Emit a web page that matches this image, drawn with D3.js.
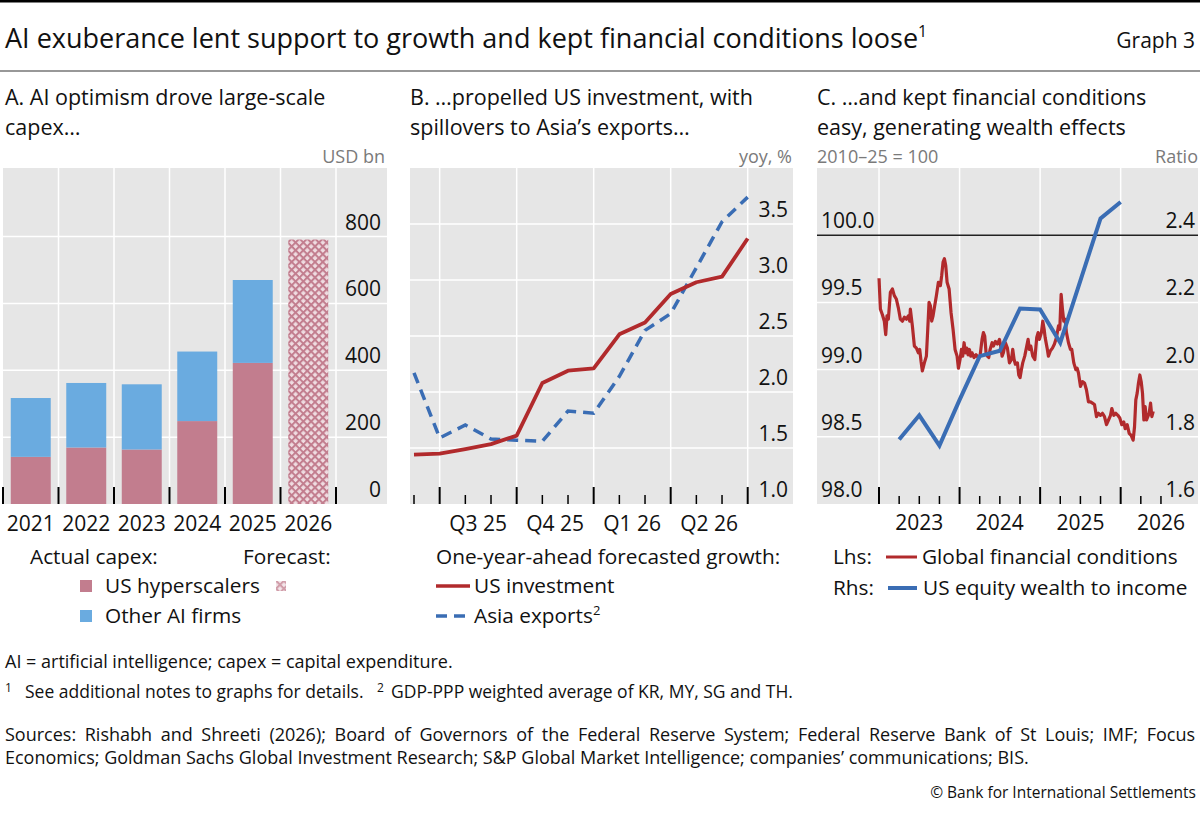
<!DOCTYPE html>
<html><head><meta charset="utf-8">
<script src="https://cdn.jsdelivr.net/npm/d3@7"></script>
<style>
body{margin:0;background:#fff}
svg{display:block}
text{font-family:"Open Sans","Noto Sans",sans-serif;fill:#111}
</style>
</head><body>
<svg id="c" width="1200" height="816"></svg>
<script>
// ---------- Panel A data ----------
const capexYears = ["2021","2022","2023","2024","2025","2026"];
const usHyperscalers = [141, 169, 163, 248, 422, null];
const otherAIFirms = [176, 193, 195, 208, 248, null];
const forecastHyperscalers = [null, null, null, null, null, 791];
const capexTicks = [0, 200, 400, 600, 800];

// ---------- Panel B data ----------
const surveyMonths = ["Jun 25","Jul 25","Aug 25","Sep 25","Oct 25","Nov 25","Dec 25","Jan 26","Feb 26","Mar 26","Apr 26","May 26","Jun 26","Jul 26"];
const usInvestment = [1.44, 1.45, 1.49, 1.535, 1.61, 2.08, 2.19, 2.21, 2.515, 2.62, 2.875, 2.98, 3.03, 3.37];
const asiaExports = [2.17, 1.59, 1.705, 1.58, 1.57, 1.56, 1.83, 1.81, 2.14, 2.55, 2.70, 3.11, 3.52, 3.74];
const quarterLabels = ["Q3 25","Q4 25","Q1 26","Q2 26"];
const quarterStartIdx = [1, 4, 7, 10, 13];
const growthTicks = [1.0, 1.5, 2.0, 2.5, 3.0, 3.5];

// ---------- Panel C data ----------
const equityYears = [2023.25, 2023.5, 2023.75, 2024.0, 2024.25, 2024.5, 2024.75, 2025.0, 2025.25, 2025.5, 2025.75, 2026.0];
const equityWealthToIncome = [1.792, 1.864, 1.774, 1.91, 2.04, 2.056, 2.182, 2.179, 2.08, 2.265, 2.45, 2.499];
const gfcSeries = [
[2023.000,99.68],[2023.017,99.45],[2023.041,99.41],[2023.066,99.36],[2023.083,99.26],[2023.099,99.40],[2023.116,99.375],[2023.141,99.575],
[2023.166,99.60],[2023.190,99.55],[2023.215,99.525],[2023.240,99.46],[2023.265,99.375],[2023.290,99.36],[2023.315,99.39],[2023.340,99.375],
[2023.364,99.40],[2023.381,99.36],[2023.389,99.45],[2023.414,99.325],[2023.439,99.175],[2023.464,99.16],[2023.489,99.125],[2023.505,99.15],
[2023.522,99.06],[2023.538,98.99],[2023.563,99.05],[2023.588,99.10],[2023.605,99.30],[2023.621,99.50],[2023.638,99.475],[2023.654,99.36],
[2023.671,99.40],[2023.687,99.46],[2023.712,99.55],[2023.737,99.65],[2023.762,99.625],[2023.778,99.70],[2023.795,99.80],[2023.812,99.825],
[2023.828,99.775],[2023.845,99.65],[2023.870,99.60],[2023.894,99.425],[2023.919,99.30],[2023.944,99.15],[2023.969,99.10],[2023.986,99.01],
[2024.006,99.075],[2024.023,99.15],[2024.039,99.10],[2024.056,99.20],[2024.072,99.125],[2024.089,99.16],[2024.105,99.11],[2024.122,99.15],
[2024.139,99.10],[2024.155,99.125],[2024.180,99.09],[2024.205,99.11],[2024.230,99.09],[2024.254,99.10],[2024.279,99.225],[2024.296,99.275],
[2024.312,99.25],[2024.329,99.125],[2024.346,99.10],[2024.362,99.09],[2024.379,99.15],[2024.404,99.20],[2024.420,99.175],[2024.445,99.21],
[2024.470,99.19],[2024.495,99.225],[2024.511,99.175],[2024.528,99.10],[2024.544,99.125],[2024.569,99.20],[2024.594,99.16],[2024.619,99.05],
[2024.644,99.075],[2024.660,99.15],[2024.677,99.075],[2024.693,99.04],[2024.718,99.05],[2024.735,98.96],[2024.751,98.94],[2024.768,99.00],
[2024.784,99.05],[2024.809,99.10],[2024.834,99.175],[2024.851,99.225],[2024.867,99.15],[2024.884,99.175],[2024.909,99.10],[2024.934,99.075],
[2024.958,99.24],[2024.975,99.275],[2024.991,99.225],[2025.016,99.275],[2025.033,99.36],[2025.050,99.30],
[2025.062,99.24],[2025.087,99.16],[2025.103,99.10],[2025.128,99.14],[2025.153,99.16],[2025.178,99.19],[2025.203,99.24],[2025.228,99.325],
[2025.244,99.30],[2025.261,99.56],[2025.277,99.45],[2025.294,99.36],[2025.310,99.375],[2025.327,99.275],[2025.352,99.20],[2025.377,99.15],
[2025.393,99.15],[2025.418,99.05],[2025.443,99.00],[2025.460,99.01],[2025.476,98.975],[2025.501,98.875],[2025.526,98.91],[2025.551,98.90],
[2025.575,98.85],[2025.600,98.76],[2025.625,98.76],[2025.650,98.75],[2025.675,98.74],[2025.700,98.65],[2025.725,98.675],[2025.749,98.66],
[2025.774,98.675],[2025.799,98.65],[2025.824,98.59],[2025.849,98.625],[2025.874,98.66],[2025.890,98.71],[2025.915,98.66],[2025.940,98.675],
[2025.965,98.66],[2025.989,98.64],[2026.014,98.59],[2026.039,98.61],[2026.056,98.56],[2026.081,98.59],[2026.106,98.525],[2026.130,98.51],
[2026.155,98.475],[2026.172,98.575],[2026.188,98.775],[2026.205,98.825],[2026.221,98.90],[2026.238,98.96],[2026.255,98.91],[2026.271,98.825],
[2026.288,98.625],[2026.304,98.725],[2026.321,98.625],[2026.337,98.65],[2026.354,98.675],[2026.371,98.75],[2026.387,98.65],[2026.404,98.69]
];
const gfcTicks = [98.0, 98.5, 99.0, 99.5, 100.0];
const ratioTicks = [1.6, 1.8, 2.0, 2.2, 2.4];
const yearLabels = [2023, 2024, 2025, 2026];

// ---------- styles ----------
const BG = "#e6e6e6", GRID = "#ffffff";
const PINK = "#c27d8e", LBLUE = "#6aabe0";
const RED = "#b12a2c", BLUE = "#3a6db4";
const TICKFS = 21, LEGFS = 20.8, PTFS = 21.5;
const PLOT_TOP = 168, PLOT_BOT = 504;

const svg = d3.select("#c");
const defs = svg.append("defs");
const pat = defs.append("pattern").attr("id","xhatch").attr("patternUnits","userSpaceOnUse")
  .attr("width",5.5).attr("height",5.5).attr("patternTransform","rotate(45)");
pat.append("rect").attr("width",5.5).attr("height",5.5).attr("fill","#efdce1");
pat.append("rect").attr("width",5.5).attr("height",2).attr("fill",PINK);
pat.append("rect").attr("width",2).attr("height",5.5).attr("fill",PINK);

// ---------- header ----------
svg.append("rect").attr("x",0).attr("y",0).attr("width",1200).attr("height",2.5).attr("fill","#000");
const title = svg.append("text").attr("x",5).attr("y",48).attr("font-size",27);
title.append("tspan").text("AI exuberance lent support to growth and kept financial conditions loose");
title.append("tspan").attr("dy",-11).attr("font-size",16).text("1");
svg.append("text").attr("x",1195).attr("y",48).attr("text-anchor","end").attr("font-size",21).text("Graph 3");
svg.append("line").attr("x1",0).attr("x2",1200).attr("y1",71).attr("y2",71).attr("stroke","#333").attr("stroke-width",1.2);

function panelTitle(x, l1, l2){
  svg.append("text").attr("x",x).attr("y",104.5).attr("font-size",PTFS).text(l1);
  svg.append("text").attr("x",x).attr("y",134.5).attr("font-size",PTFS).text(l2);
}
panelTitle(5, "A. AI optimism drove large-scale", "capex…");
panelTitle(410, "B. …propelled US investment, with", "spillovers to Asia’s exports…");
panelTitle(817, "C. …and kept financial conditions", "easy, generating wealth effects");

function unit(x, anchor, t, fs){
  svg.append("text").attr("x",x).attr("y",163).attr("text-anchor",anchor).attr("font-size",fs||18).style("fill","#7a7a7a").text(t);
}

// ---------- Panel A ----------
{
  const L = 3, R = 387, barR = 336;
  const g = svg.append("g");
  const x = d3.scaleBand().domain(capexYears).range([L, barR]).paddingInner(0.28).paddingOuter(0.14);
  const y = d3.scaleLinear().domain([0, 1005]).range([PLOT_BOT, PLOT_TOP]);
  g.append("rect").attr("x",L).attr("y",PLOT_TOP).attr("width",R-L).attr("height",PLOT_BOT-PLOT_TOP).attr("fill",BG);
  const half = (x.step() - x.bandwidth())/2;
  const bounds = capexYears.map(d => x(d) - half).concat([x(capexYears[5]) + x.bandwidth() + half]);
  g.selectAll(".hg").data(capexTicks.filter(v=>v>0)).join("line")
    .attr("x1",L).attr("x2",R).attr("y1",d=>y(d)).attr("y2",d=>y(d)).attr("stroke",GRID).attr("stroke-width",1.5);
  g.selectAll(".vg").data(bounds.slice(1)).join("line")
    .attr("x1",d=>d).attr("x2",d=>d).attr("y1",PLOT_TOP).attr("y2",PLOT_BOT).attr("stroke",GRID).attr("stroke-width",1.5);
  const rows = capexYears.map((d,i)=>({year:d, hyp:usHyperscalers[i]||0, other:otherAIFirms[i]||0}));
  const stack = d3.stack().keys(["hyp","other"])(rows);
  const cols = {hyp:PINK, other:LBLUE};
  stack.forEach(s => {
    g.selectAll(null).data(s.filter(d=>d[1]>d[0])).join("rect")
      .attr("x",d=>x(d.data.year)).attr("width",x.bandwidth())
      .attr("y",d=>y(d[1])).attr("height",d=>y(d[0])-y(d[1])).attr("fill",cols[s.key]);
  });
  g.selectAll(null).data(capexYears.map((d,i)=>({year:d,v:forecastHyperscalers[i]})).filter(d=>d.v!=null)).join("rect")
    .attr("x",d=>x(d.year)).attr("width",x.bandwidth()).attr("y",d=>y(d.v)).attr("height",d=>y(0)-y(d.v)).attr("fill","url(#xhatch)");
  g.selectAll(null).data(bounds).join("line")
    .attr("x1",d=>d).attr("x2",d=>d).attr("y1",PLOT_BOT-17).attr("y2",PLOT_BOT).attr("stroke","#000").attr("stroke-width",2);
  g.selectAll(null).data(capexTicks).join("text")
    .attr("x",381).attr("y",d=>y(d)-7).attr("text-anchor","end").attr("font-size",TICKFS).text(d=>d);
  g.selectAll(null).data(capexYears).join("text")
    .attr("x",d=>x(d)+x.bandwidth()/2).attr("y",531).attr("text-anchor","middle").attr("font-size",TICKFS).text(d=>d);
  unit(385,"end","USD bn");
  // legend
  svg.append("text").attr("x",30).attr("y",564).attr("font-size",LEGFS).text("Actual capex:");
  svg.append("text").attr("x",243).attr("y",564).attr("font-size",LEGFS).text("Forecast:");
  svg.append("rect").attr("x",80).attr("y",580).attr("width",12).attr("height",12).attr("fill",PINK);
  svg.append("text").attr("x",105).attr("y",593).attr("font-size",LEGFS).text("US hyperscalers");
  svg.append("rect").attr("x",276).attr("y",581).attr("width",10).attr("height",10).attr("fill","url(#xhatch)").attr("opacity",0.75);
  svg.append("rect").attr("x",80).attr("y",610).attr("width",12).attr("height",12).attr("fill",LBLUE);
  svg.append("text").attr("x",105).attr("y",623).attr("font-size",LEGFS).text("Other AI firms");
}

// ---------- Panel B ----------
{
  const L = 410, R = 793;
  const g = svg.append("g");
  const x = d3.scaleLinear().domain([0, 13]).range([414, 747.7]);
  const y = d3.scaleLinear().domain([1, 4]).range([PLOT_BOT, PLOT_TOP]);
  g.append("rect").attr("x",L).attr("y",PLOT_TOP).attr("width",R-L).attr("height",PLOT_BOT-PLOT_TOP).attr("fill",BG);
  g.selectAll(null).data(growthTicks.slice(1)).join("line")
    .attr("x1",L).attr("x2",R).attr("y1",d=>y(d)).attr("y2",d=>y(d)).attr("stroke",GRID).attr("stroke-width",1.5);
  g.selectAll(null).data(quarterStartIdx).join("line")
    .attr("x1",d=>x(d)).attr("x2",d=>x(d)).attr("y1",PLOT_TOP).attr("y2",PLOT_BOT).attr("stroke",GRID).attr("stroke-width",1.5);
  const idx = surveyMonths.map((d,i)=>i);
  g.selectAll(null).data(idx).join("line")
    .attr("x1",d=>x(d)).attr("x2",d=>x(d))
    .attr("y1",d=>quarterStartIdx.includes(d)?PLOT_BOT-17:PLOT_BOT-9).attr("y2",PLOT_BOT)
    .attr("stroke","#000").attr("stroke-width",d=>quarterStartIdx.includes(d)?2:1.5);
  const line = d3.line().x((d,i)=>x(i)).y(d=>y(d));
  g.append("path").attr("d",line(asiaExports)).attr("fill","none").attr("stroke",BLUE).attr("stroke-width",3.5).attr("stroke-dasharray","11,7");
  g.append("path").attr("d",line(usInvestment)).attr("fill","none").attr("stroke",RED).attr("stroke-width",3.8).attr("stroke-linejoin","round");
  g.selectAll(null).data(growthTicks).join("text")
    .attr("x",788).attr("y",d=>y(d)-7).attr("text-anchor","end").attr("font-size",TICKFS).text(d=>d.toFixed(1));
  g.selectAll(null).data(quarterLabels).join("text")
    .attr("x",(d,i)=>x((quarterStartIdx[i]+quarterStartIdx[i+1])/2)).attr("y",531).attr("text-anchor","middle").attr("font-size",TICKFS).text(d=>d);
  unit(792,"end","yoy, %");
  svg.append("text").attr("x",436).attr("y",564).attr("font-size",LEGFS).text("One-year-ahead forecasted growth:");
  svg.append("line").attr("x1",436).attr("x2",470).attr("y1",586).attr("y2",586).attr("stroke",RED).attr("stroke-width",3.5);
  svg.append("text").attr("x",474).attr("y",593).attr("font-size",LEGFS).text("US investment");
  svg.append("line").attr("x1",436).attr("x2",468).attr("y1",616).attr("y2",616).attr("stroke",BLUE).attr("stroke-width",3.5).attr("stroke-dasharray","11,7");
  const ae = svg.append("text").attr("x",474).attr("y",623).attr("font-size",LEGFS);
  ae.append("tspan").text("Asia exports");
  ae.append("tspan").attr("dy",-8).attr("font-size",13).text("2");
}

// ---------- Panel C ----------
{
  const L = 817, R = 1198;
  const g = svg.append("g");
  const x = d3.scaleLinear().domain([2022.23, 2026.96]).range([L, R]);
  const yL = d3.scaleLinear().domain([98, 100.5]).range([PLOT_BOT, PLOT_TOP]);
  const yR = d3.scaleLinear().domain([1.6, 2.6]).range([PLOT_BOT, PLOT_TOP]);
  g.append("rect").attr("x",L).attr("y",PLOT_TOP).attr("width",R-L).attr("height",PLOT_BOT-PLOT_TOP).attr("fill",BG);
  g.selectAll(null).data(gfcTicks.filter(v=>v>98 && v<100)).join("line")
    .attr("x1",L).attr("x2",R).attr("y1",d=>yL(d)).attr("y2",d=>yL(d)).attr("stroke",GRID).attr("stroke-width",1.5);
  g.selectAll(null).data(yearLabels).join("line")
    .attr("x1",d=>x(d)).attr("x2",d=>x(d)).attr("y1",PLOT_TOP).attr("y2",PLOT_BOT).attr("stroke",GRID).attr("stroke-width",1.5);
  g.append("line").attr("x1",L).attr("x2",R).attr("y1",yL(100)).attr("y2",yL(100)).attr("stroke","#222").attr("stroke-width",1.5);
  const qt = d3.range(yearLabels[0]*4, yearLabels[yearLabels.length-1]*4 + 3).map(q=>q/4);
  g.selectAll(null).data(qt).join("line")
    .attr("x1",d=>x(d)).attr("x2",d=>x(d))
    .attr("y1",d=>Number.isInteger(d)?PLOT_BOT-17:PLOT_BOT-8).attr("y2",PLOT_BOT)
    .attr("stroke","#000").attr("stroke-width",d=>Number.isInteger(d)?2:1.5);
  g.append("path").attr("d",d3.line().x(d=>x(d[0])).y(d=>yL(d[1]))(gfcSeries))
    .attr("fill","none").attr("stroke",RED).attr("stroke-width",3.2).attr("stroke-linejoin","round");
  g.append("path").attr("d",d3.line().x((d,i)=>x(equityYears[i])).y(d=>yR(d))(equityWealthToIncome))
    .attr("fill","none").attr("stroke",BLUE).attr("stroke-width",4).attr("stroke-linejoin","miter");
  g.selectAll(null).data(gfcTicks).join("text")
    .attr("x",821).attr("y",d=>yL(d)-7).attr("font-size",TICKFS).text(d=>d.toFixed(1));
  g.selectAll(null).data(ratioTicks).join("text")
    .attr("x",1195).attr("y",d=>yR(d)-7).attr("text-anchor","end").attr("font-size",TICKFS).text(d=>d.toFixed(1));
  g.selectAll(null).data(yearLabels).join("text")
    .attr("x",d=>x(d+0.5)).attr("y",530).attr("text-anchor","middle").attr("font-size",TICKFS).text(d=>d);
  unit(817,"start","2010–25 = 100");
  unit(1198,"end","Ratio");
  svg.append("text").attr("x",833).attr("y",564).attr("font-size",LEGFS).text("Lhs:");
  svg.append("line").attr("x1",886).attr("x2",917).attr("y1",557).attr("y2",557).attr("stroke",RED).attr("stroke-width",3);
  svg.append("text").attr("x",922).attr("y",564).attr("font-size",LEGFS).text("Global financial conditions");
  svg.append("text").attr("x",833).attr("y",595).attr("font-size",LEGFS).text("Rhs:");
  svg.append("line").attr("x1",888).attr("x2",917).attr("y1",588).attr("y2",588).attr("stroke",BLUE).attr("stroke-width",4);
  svg.append("text").attr("x",923).attr("y",595).attr("font-size",LEGFS).text("US equity wealth to income");
}

// ---------- footer ----------
const FFS = 18;
svg.append("text").attr("x",5).attr("y",668).attr("font-size",FFS).text("AI = artificial intelligence; capex = capital expenditure.");
svg.append("text").attr("x",5).attr("y",692).attr("font-size",12).text("1");
svg.append("text").attr("x",25).attr("y",698).attr("font-size",17.5).text("See additional notes to graphs for details.");
svg.append("text").attr("x",377).attr("y",692).attr("font-size",12).text("2");
svg.append("text").attr("x",391).attr("y",698).attr("font-size",17.5).text("GDP-PPP weighted average of KR, MY, SG and TH.");

function justify(str, x0, x1, yb){
  const words = str.split(" ");
  const t = svg.append("text").attr("y",yb).attr("font-size",FFS);
  const spans = words.map(w => t.append("tspan").text(w));
  const widths = spans.map(s => s.node().getComputedTextLength());
  const total = d3.sum(widths);
  const gap = Math.max(2, (x1 - x0 - total) / (words.length - 1));
  let cx = x0;
  spans.forEach((s,i) => { s.attr("x", cx); cx += widths[i] + gap; });
}
justify("Sources: Rishabh and Shreeti (2026); Board of Governors of the Federal Reserve System; Federal Reserve Bank of St Louis; IMF; Focus", 5, 1195, 741);
svg.append("text").attr("x",5).attr("y",764).attr("font-size",FFS).text("Economics; Goldman Sachs Global Investment Research; S&P Global Market Intelligence; companies’ communications; BIS.");
svg.append("text").attr("x",1196).attr("y",798).attr("text-anchor","end").attr("font-size",15.5).text("© Bank for International Settlements");
</script>
</body></html>
